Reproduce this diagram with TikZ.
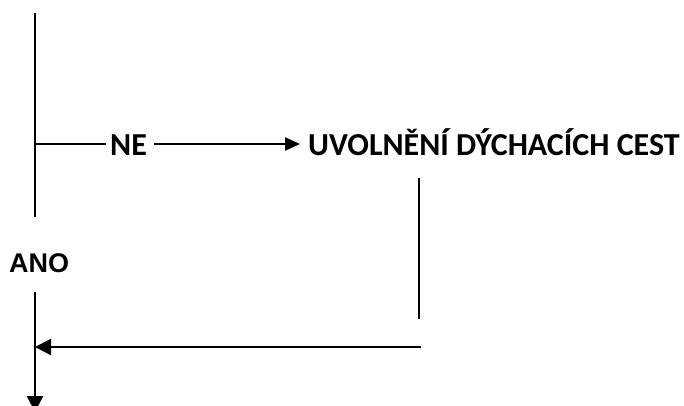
\documentclass[tikz,border=0pt]{standalone}
\usepackage{fontspec}
\setmainfont{Carlito}
\newfontfamily\arialfont{Liberation Sans}
\usetikzlibrary{arrows.meta}
\begin{document}
\begin{tikzpicture}[x=1pt,y=1pt,
  thickline/.style={line width=2.3pt},
  thinline/.style={line width=1.4pt},
  arr/.style={-{Triangle[length=15pt,width=13pt]}},
  bigarr/.style={-{Triangle[length=16pt,width=16pt]}},
  lbl/.style={inner sep=0pt, anchor=base west, font=\fontsize{32}{36}\selectfont\bfseries},
  lblarial/.style={inner sep=0pt, anchor=base west, font=\arialfont\fontsize{27}{30}\selectfont\bfseries}]
\useasboundingbox (0,0) rectangle (684,-405);
\clip (0,0) rectangle (684,-405);
% coordinates
\coordinate (t1) at (35,-13);
\coordinate (t2) at (35,-217);
\coordinate (br) at (35,-144);
\coordinate (neL) at (106,-144);
\coordinate (neR) at (154,-144);
\coordinate (neM) at (179,-144);
\coordinate (uvIn) at (300,-144);
\coordinate (r1) at (419,-178);
\coordinate (r2) at (419,-319);
\coordinate (hS) at (421,-347);
\coordinate (hE) at (35,-347);
\coordinate (b1) at (35,-292);
\coordinate (b2) at (35,-412);
% labels
\node[lbl] (ne) at (110,-155) {NE};
\node[lbl] (uv) at (308,-155) {UVOLNĚNÍ DÝCHACÍCH CEST};
\node[lblarial] (ano) at (9,-272) {ANO};
% lines
\draw[thickline] (t1) -- (t2);
\draw[thinline] (br) -- (neL);
\draw[thinline] (neR) -- (neM);
\draw[thickline,arr] (neM) -- (uvIn);
\draw[thickline] (r1) -- (r2);
\draw[thickline,bigarr] (hS) -- (hE);
\draw[thickline,bigarr] (b1) -- (b2);
\end{tikzpicture}
\end{document}
